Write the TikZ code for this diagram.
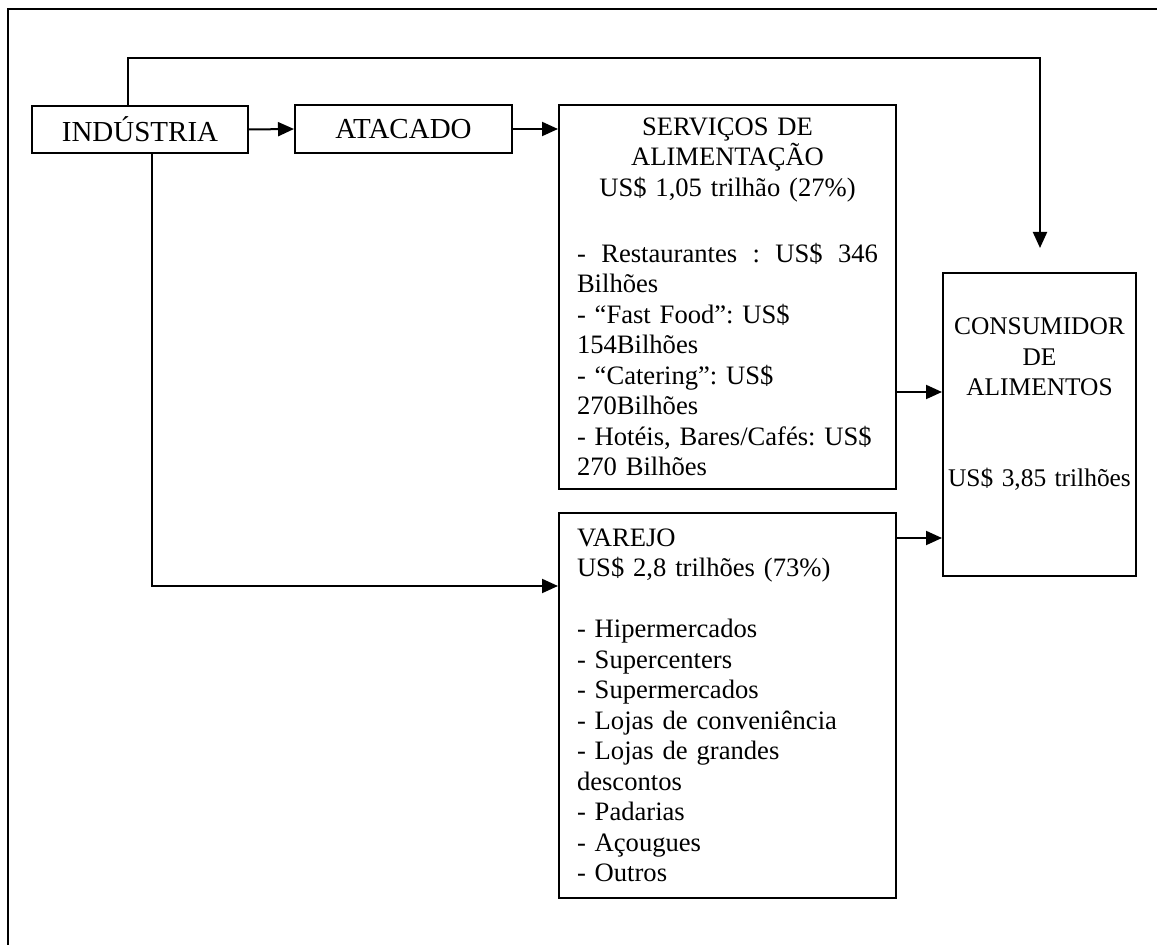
\documentclass[tikz,border=0pt]{standalone}
\usepackage{fontspec}
\setmainfont{Liberation Serif}
\usetikzlibrary{arrows.meta}
\begin{document}
\frenchspacing
\begin{tikzpicture}[x=0.5pt,y=-0.5pt,
  box/.style={draw, line width=1pt, inner sep=0pt},
  conn/.style={line width=1pt, -{Triangle[length=8pt,width=7pt]}},
  bigfont/.style={font=\fontsize{14.5}{17}\selectfont},
  txt/.style={font=\fontsize{13.3}{15.25}\selectfont},
  smalltxt/.style={font=\fontsize{12.7}{15.25}\selectfont}]
\useasboundingbox (0,0) rectangle (1157,945);
\draw[line width=1.2pt] (1170,9) -- (8,9) -- (8,960);

\node[box,bigfont,minimum width=108pt,minimum height=23.5pt] (ind) at (140,129.5) {INDÚSTRIA};
\node[box,bigfont,minimum width=108.5pt,minimum height=24pt] (ata) at (403.5,129) {ATACADO};

\node[box,txt,minimum width=168.5pt,minimum height=192pt,text width=150.5pt] (serv) at (727.5,297) {%
\parindent=0pt\parskip=0pt
{\centering SERVIÇOS DE\\ALIMENTAÇÃO\\US\$ 1,05 trilhão (27\%)\par}
\vspace{17.75pt}
\hbox to\hsize{-\hfill Restaurantes\hfill :\hfill US\$\hfill 346}\par
Bilhões\par
- “Fast Food”: US\$\par
154Bilhões\par
- “Catering”: US\$\par
270Bilhões\par
- Hotéis, Bares/Cafés: US\$\par
270 Bilhões\par
\vspace*{-4pt}};

\node[box,txt,minimum width=168.5pt,minimum height=192.5pt,text width=150.5pt,align=left] (var) at (727.5,705.5) {%
VAREJO\\US\$ 2,8 trilhões (73\%)\\[15.25pt]
- Hipermercados\\- Supercenters\\- Supermercados\\- Lojas de conveniência\\- Lojas de grandes\\descontos\\- Padarias\\- Açougues\\- Outros\par\vspace*{5pt}};

\node[box,smalltxt,minimum width=96.5pt,minimum height=151.5pt,text width=94pt,align=center] (cons) at (1039.5,424.5) {%
CONSUMIDOR\\DE\\ALIMENTOS\\[30.25pt]US\$ 3,85 trilhões\\[6.75pt]\mbox{}};

\coordinate (topturn) at (1040,58);
\coordinate (topend) at (1040,248);

\draw[conn] (ind.east) -- (ata.west);
\draw[conn] (ata.east) -- (ata.east -| serv.west);
\draw[conn] ([xshift=-6pt]ind.north) |- (topturn) -- (topend);
\draw[conn] ([xshift=6pt]ind.south) |- ([yshift=59.75pt]var.west);
\draw[conn] ([yshift=-47.5pt]serv.east) -- ([yshift=-47.5pt]serv.east -| cons.west);
\draw[conn] ([yshift=83.75pt]var.east) -- ([yshift=83.75pt]var.east -| cons.west);
\end{tikzpicture}
\end{document}
